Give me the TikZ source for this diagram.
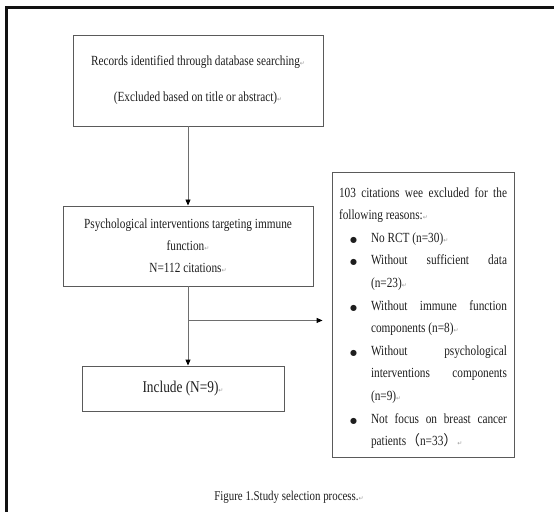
\documentclass[tikz,border=0pt]{standalone}
\usepackage{fontspec}
\setmainfont{Liberation Serif}[FakeStretch=0.81]
\newfontfamily\symfont{DejaVu Sans}
\newfontfamily\cjk{Noto Sans CJK SC}
\usepackage{xcolor}
\usepackage{tikz}
\usetikzlibrary{calc,positioning,arrows.meta}
\definecolor{FrameBlack}{HTML}{111111}
\definecolor{BoxGray}{HTML}{5A5A5A}
\definecolor{LineGray}{HTML}{6E6E6E}
\definecolor{InkDark}{HTML}{1E1E1E}
\definecolor{MarkGray}{HTML}{9A9A9A}
\newcommand\pmark{{\symfont\fontsize{6}{6}\selectfont\textcolor{MarkGray}{↵}}}
\newcommand\reason[1]{\par\hangindent=32bp\hangafter=1\noindent\hbox to 32bp{\hspace{11bp}{\symfont\fontsize{8}{8}\selectfont●}\hfil}#1\par}
\tikzset{
  stagebox/.style={draw=BoxGray,line width=0.9bp,text=InkDark,align=center,
    font=\fontsize{14}{22}\selectfont,inner sep=0pt},
  flowline/.style={draw=LineGray,line width=0.9bp,-{Triangle[length=6bp,width=5bp,color=black]}}
}
\begin{document}
\begin{tikzpicture}[x=1bp,y=-1bp]
  \useasboundingbox (0,0) rectangle (554,512);
  \draw[FrameBlack,line width=2.4bp] (6.5,520) -- (6.5,7.5) -- (560,7.5);
  \node[stagebox,minimum width=250bp,minimum height=91bp] (records) at (198,80.5) {%
    Records identified through database searching\pmark\\[14bp]
    (Excluded based on title or abstract)\pmark};
  \node[stagebox,minimum width=250bp,minimum height=80bp] (selected) at (188,246) {%
    Psychological interventions targeting immune\\
    function\pmark\\
    N=112 citations\pmark};
  \node[stagebox,minimum width=202bp,minimum height=45bp,font=\fontsize{16.5}{18}\selectfont] (included) at (183,388.5) {Include (N=9)\pmark};
  \node[stagebox,minimum width=182bp,minimum height=285bp,text width=168bp,align=justify,
    font=\fontsize{14}{22.7}\selectfont] (excluded) at (423,314.5) {%
    103 citations wee excluded for the\linebreak following reasons:\pmark
    \reason{No RCT (n=30)\pmark}
    \reason{Without sufficient data\linebreak (n=23)\pmark}
    \reason{Without immune function\linebreak components (n=8)\pmark}
    \reason{Without psychological\linebreak interventions components\linebreak (n=9)\pmark}
    \reason{Not focus on breast cancer\linebreak patients{\cjk （}n=33{\cjk ）}\pmark}
    \vspace{-7bp}};
  \draw[flowline] (records.south -| selected.north) -- (selected.north);
  \draw[flowline] (selected.south) -- (selected.south |- included.north);
  \coordinate (branch) at ($(selected.south)+(0,34)$);
  \draw[flowline,shorten >=9bp] (branch) -- (branch -| excluded.west);
  \node[text=InkDark,font=\fontsize{13.5}{15}\selectfont] (caption) at (289,497) {Figure 1.Study selection process.\pmark};
\end{tikzpicture}
\end{document}
